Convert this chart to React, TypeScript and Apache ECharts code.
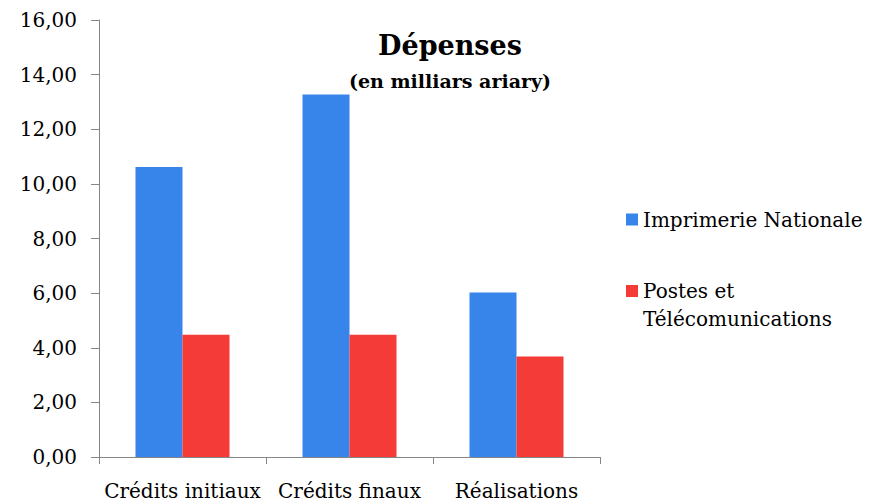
import React, { useEffect, useRef } from "react";
import * as echarts from "echarts";

const categories = ["Crédits initiaux", "Crédits finaux", "Réalisations"];
const seriesNames = ["Imprimerie Nationale", "Postes et Télécomunications"];
const imprimerieValues = [10.62, 13.27, 6.02];
const postesValues = [4.48, 4.48, 3.68];
const titleText = "Dépenses";
const subtitleText = "(en milliars ariary)";

const SERIF = "'DejaVu Serif', 'Liberation Serif', serif";

export default function App() {
  const ref = useRef<HTMLDivElement>(null);
  useEffect(() => {
    if (!ref.current) return;
    const chart = echarts.init(ref.current, null, { renderer: "svg" });
    chart.setOption({
      animation: false,
      backgroundColor: "#ffffff",
      grid: { left: 99, right: 270, top: 20, bottom: 45, containLabel: false },
      graphic: [
        {
          type: "text",
          x: 450,
          y: 45,
          style: {
            text: titleText,
            font: `bold 27px ${SERIF}`,
            fill: "#000",
            align: "center",
            verticalAlign: "middle",
          },
        },
        {
          type: "text",
          x: 450,
          y: 81,
          style: {
            text: subtitleText,
            font: `bold 19px ${SERIF}`,
            fill: "#000",
            align: "center",
            verticalAlign: "middle",
          },
        },
      ],
      legend: [
        {
          data: [seriesNames[0]],
          left: 626,
          top: 206,
          padding: 0,
          itemWidth: 12,
          itemHeight: 12,
          itemGap: 5,
          icon: "rect",
          textStyle: { fontFamily: SERIF, fontSize: 20, color: "#000", lineHeight: 27 },
        },
        {
          data: [seriesNames[1]],
          left: 626,
          top: 249,
          padding: 0,
          itemWidth: 12,
          itemHeight: 12,
          icon: "rect",
          formatter: () => "\nPostes et\nTélécomunications",
          textStyle: {
            fontFamily: SERIF,
            fontSize: 20,
            color: "#000",
            lineHeight: 28,
          },
        },
      ],
      xAxis: {
        type: "category",
        data: categories,
        axisLine: { show: true, lineStyle: { color: "#868686", width: 1 } },
        axisTick: { show: true, length: 7, alignWithLabel: false, lineStyle: { color: "#868686" } },
        axisLabel: {
          interval: 0,
          margin: 24,
          fontFamily: SERIF,
          fontSize: 20,
          color: "#000",
        },
        splitLine: { show: false },
      },
      yAxis: {
        type: "value",
        min: 0,
        max: 16,
        interval: 2,
        axisLine: { show: true, lineStyle: { color: "#868686", width: 1 } },
        axisTick: { show: true, length: 8, lineStyle: { color: "#868686" } },
        axisLabel: {
          margin: 22,
          fontFamily: SERIF,
          fontSize: 20,
          color: "#000",
          formatter: (v: number) => v.toFixed(2).replace(".", ","),
        },
        splitLine: { show: false },
      },
      series: [
        {
          name: seriesNames[0],
          type: "bar",
          data: imprimerieValues,
          barWidth: 47,
          barGap: "0%",
          itemStyle: { color: "#3784EB" },
        },
        {
          name: seriesNames[1],
          type: "bar",
          data: postesValues,
          barWidth: 47,
          barGap: "0%",
          itemStyle: { color: "#F53B37" },
        },
      ],
    });
    return () => chart.dispose();
  }, []);
  return (
    <div
      ref={ref}
      style={{ position: "absolute", left: 0, top: 0, width: 870, height: 502 }}
    />
  );
}
